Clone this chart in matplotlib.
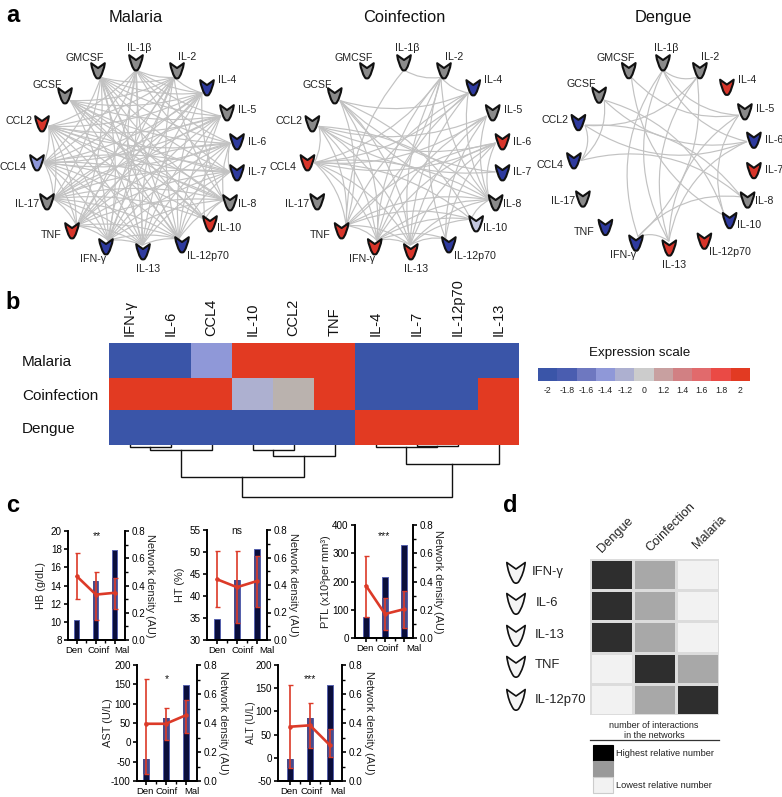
import numpy as np
import matplotlib
matplotlib.use("Agg")
import matplotlib.pyplot as plt
from matplotlib.colors import BoundaryNorm, ListedColormap
from matplotlib.patches import PathPatch, Rectangle
from matplotlib.path import Path
from matplotlib.transforms import ScaledTranslation

plt.rcParams["font.family"] = ["Liberation Sans", "DejaVu Sans"]
plt.rcParams["axes.unicode_minus"] = False

W, H = 782, 797

# =========================
# data: networks (panel a)
# =========================

NODES = ["GCSF", "GMCSF", "IL-1β", "IL-2", "IL-4", "IL-5", "IL-6", "IL-7", "IL-8",
         "IL-10", "IL-12p70", "IL-13", "IFN-γ", "TNF", "IL-17", "CCL4", "CCL2"]

# g grey, b blue, r red, l light blue, p pale
MALARIA_COLORS = "g g g g b g b b g r b b b r g l r".split()
COINF_COLORS = "g g g g b g r b g p b r r r g r g".split()
DENGUE_COLORS = "g g g g r g b r g b r r b b g b b".split()

MALARIA_EDGES = {
    "GCSF": ["IL-4", "IL-5", "IL-6", "IL-7", "IL-8", "IL-10", "IL-12p70", "IL-13", "IFN-γ", "IL-2"],
    "GMCSF": ["IL-2", "IL-4", "IL-5", "IL-6", "IL-7", "IL-8", "IL-10", "IL-12p70", "IL-13", "IFN-γ", "TNF", "IL-17", "CCL4"],
    "IL-1β": ["IL-2", "IL-4", "IL-5", "IL-6", "IL-7", "IL-12p70", "IL-13", "IFN-γ", "TNF", "IL-17", "CCL4", "CCL2"],
    "IL-2": ["IL-4", "IL-8", "IL-12p70", "IL-13", "IFN-γ", "TNF", "IL-17", "CCL4", "CCL2"],
    "IL-4": ["IL-12p70", "IL-13", "IFN-γ", "TNF", "IL-17", "CCL4", "CCL2", "IL-8"],
    "IL-5": ["IL-10", "IL-12p70", "IL-13", "IFN-γ", "TNF", "IL-17", "CCL4", "CCL2"],
    "IL-6": ["IL-7", "IL-8", "IL-12p70", "IL-13", "IFN-γ", "TNF", "IL-17", "CCL4", "CCL2"],
    "IL-7": ["IL-12p70", "IL-13", "IFN-γ", "TNF", "IL-17", "CCL4", "CCL2"],
    "IL-8": ["IL-10", "IL-12p70", "IFN-γ", "TNF", "IL-17", "CCL4", "CCL2"],
    "IL-10": ["IL-17", "CCL4", "CCL2"],
    "IL-12p70": ["IL-13", "IFN-γ", "TNF", "IL-17", "CCL4", "CCL2"],
    "IL-13": ["IFN-γ", "TNF", "IL-17", "CCL4", "CCL2"],
    "IFN-γ": ["TNF", "IL-17", "CCL4", "CCL2"],
    "TNF": ["IL-17", "CCL4", "CCL2"],
    "IL-17": ["CCL4", "CCL2"],
    "CCL4": ["CCL2"],
}

COINF_EDGES = {
    "GCSF": ["IL-7", "IL-8", "IL-10", "IL-4", "IL-13", "IFN-γ", "TNF"],
    "IL-1β": ["IL-2", "TNF"],
    "IL-2": ["IL-4", "IL-8", "IL-12p70", "IL-13", "IFN-γ", "TNF", "CCL4"],
    "IL-4": ["IL-8", "IL-13", "IFN-γ", "TNF", "CCL4"],
    "IL-5": ["IL-8", "IL-12p70", "IL-13", "IFN-γ", "CCL4", "CCL2"],
    "IL-6": ["IL-8", "IL-12p70", "IL-13", "IFN-γ", "TNF", "CCL4", "CCL2"],
    "IL-7": ["CCL2"],
    "IL-8": ["IL-10", "IL-13", "IFN-γ", "TNF", "CCL4", "CCL2"],
    "IL-10": ["IL-13", "IFN-γ", "TNF", "CCL4"],
    "IL-12p70": ["IL-13", "IFN-γ"],
    "IL-13": ["IFN-γ", "TNF", "CCL4", "CCL2"],
    "IFN-γ": ["TNF", "CCL4", "CCL2"],
    "TNF": ["CCL4", "CCL2"],
    "CCL4": ["CCL2"],
}
COINF_FLIP = [("IL-1β", "TNF")]

DENGUE_EDGES = {
    "GCSF": ["IL-6", "IL-10", "CCL4"],
    "GMCSF": ["IL-5", "IL-10"],
    "IL-1β": ["IL-2", "IL-5", "IL-6", "IL-13", "IFN-γ"],
    "IL-2": ["IL-13", "IFN-γ", "CCL2"],
    "IL-5": ["IL-10", "IL-13"],
    "IL-6": ["IL-13", "CCL2"],
    "IL-8": ["IFN-γ", "CCL2", "CCL4"],
    "IL-13": ["IFN-γ"],
    "CCL4": ["CCL2"],
}
DENGUE_FLIP = [("IL-1β", "IFN-γ"), ("IL-2", "IFN-γ")]

# =========================
# data: heatmap (panel b)
# =========================

GENES = ["IFN-γ", "IL-6", "CCL4", "IL-10", "CCL2", "TNF", "IL-4", "IL-7", "IL-12p70", "IL-13"]
GROUPS = ["Malaria", "Coinfection", "Dengue"]
MALARIA_EXPR = [-2, -2, -1.4, 2, 2, 2, -2, -2, -2, -2]
COINF_EXPR = [2, 2, 2, -1.2, 0.6, 2, -2, -2, -2, 2]
DENGUE_EXPR = [-2, -2, -2, -2, -2, -2, 2, 2, 2, 2]
SCALE_TICKS = [-2, -1.8, -1.6, -1.4, -1.2, 0, 1.2, 1.4, 1.6, 1.8, 2]

# dendrogram merges: child, child, height (leaves are 0-9, merges count on from 10)
MERGES = [(0, 1, 1.7), (10, 2, 5), (3, 4, 5), (12, 5, 11), (11, 13, 32),
          (7, 8, 1.3), (6, 15, 2), (16, 9, 19.3), (14, 17, 52)]

# =========================
# data: clinical plots (panel c)
# =========================

CATS = ["Den", "Coinf", "Mal"]
HB = [15, 13, 13.2]
HB_LOW = [12.5, 10.2, 11.4]
HB_HIGH = [17.6, 15.5, 14.8]
HT = [43.8, 42, 43.4]
HT_LOW = [37.6, 33.8, 37.6]
HT_HIGH = [50.2, 50.2, 49]
PTL = [185, 85, 102]
PTL_LOW = [75, 30, 35]
PTL_HIGH = [292, 143, 168]
AST = [48, 48, 70]
AST_LOW = [-83, 5, 25]
AST_HIGH = [165, 88, 110]
ALT = [67, 70, 27]
ALT_LOW = [-22, 22, 2]
ALT_HIGH = [157, 118, 63]
DENSITY = [0.15, 0.435, 0.66]

# =========================
# data: panel d
# =========================

D_ROWS = ["IFN-γ", "IL-6", "IL-13", "TNF", "IL-12p70"]
D_COLS = ["Dengue", "Coinfection", "Malaria"]
D_LEVELS = [[2, 1, 0], [2, 1, 0], [2, 1, 0], [0, 2, 1], [0, 1, 2]]

# =========================
# layout, pixel coordinates of the figure
# =========================

NODE_DX = [-71, -38, 0, 41, 71, 91, 101, 101, 94, 74, 46, 7, -30, -64, -89, -99, -94]
NODE_Y = [96, 71, 63, 71, 88, 113, 142, 173, 203, 224, 245, 252, 247, 231, 202, 163, 124]
LABEL_DX = [-18, -13, 3, 10, 20, 20, 20, 20, 17, 19, 26, 5, -13, -21, -20, -24, -23]
LABEL_DY = [-11, -13, -15, -14, -8, -3, 0, -1, 1, 4, 11, 17, 12, 4, 2, 4, -3]
NODE_FILL = {"g": "#8a8a8a", "b": "#2e3a9e", "r": "#d8352a", "l": "#8e97da", "p": "#c3c6de"}

fig = plt.figure(figsize=(W / 100, H / 100), dpi=100)
page = fig.add_axes([0, 0, 1, 1])
page.set_xlim(0, W)
page.set_ylim(H, 0)
page.axis("off")


def px_axes(left, top, right, bottom):
    return fig.add_axes([left / W, 1 - bottom / H, (right - left) / W, (bottom - top) / H])


def glyph(x, y, hw, hh, face, lw):
    # receptor shape: two tips on top, notch between them, rounded foot
    shape = [(-1, -1), (-0.5, -0.68), (0, -0.38), (0.5, -0.68), (1, -1),
             (0.85, 0.1), (0.28, 0.85), (0, 1.1), (-0.28, 0.85), (-0.85, 0.1), (-1, -1), (-1, -1)]
    codes = [Path.MOVETO, Path.CURVE3, Path.CURVE3, Path.CURVE3, Path.CURVE3,
             Path.CURVE3, Path.CURVE3, Path.CURVE3, Path.CURVE3, Path.CURVE3, Path.CURVE3, Path.CLOSEPOLY]
    verts = [(x + a * hw, y + b * hh) for a, b in shape]
    page.add_patch(PathPatch(Path(verts, codes), facecolor=face, edgecolor="#111111", lw=lw,
                             joinstyle="round", zorder=4))


def network(title, edges, colors, cx, sx, sy, bend, flips=()):
    ctr_y = 63 + (157 - 63) * sy
    pos = {}
    for n, dx, y in zip(NODES, NODE_DX, NODE_Y):
        pos[n] = (cx + dx * sx, 63 + (y - 63) * sy)

    def anchor(n):
        x, y = pos[n]
        d = np.hypot(cx - x, ctr_y - y)
        return np.array([x + (cx - x) / d * 7, y + (ctr_y - y) / d * 7])

    for a, partners in edges.items():
        for b in partners:
            p, q = anchor(a), anchor(b)
            mid = (p + q) / 2
            chord = q - p
            perp = np.array([-chord[1], chord[0]])
            if np.dot(perp, np.array([cx, ctr_y]) - mid) < 0:
                perp = -perp
            if (a, b) in flips:
                perp = -perp
            ctrl = mid + perp * bend
            page.add_patch(PathPatch(Path([p, ctrl, q], [Path.MOVETO, Path.CURVE3, Path.CURVE3]),
                                     facecolor="none", edgecolor="#c2c2c2", lw=0.85, zorder=2))

    for i, n in enumerate(NODES):
        x, y = pos[n]
        glyph(x, y, 6.8, 7.8, NODE_FILL[colors[i]], 1.5)
        page.text(x + LABEL_DX[i], y + LABEL_DY[i], n, ha="center", va="center", fontsize=7.7, color="#222222")
    page.text(cx, 17, title, ha="center", va="center", fontsize=11.8, color="#111111")


network("Malaria", MALARIA_EDGES, MALARIA_COLORS, 136, 1.0, 1.0, 0.13)
network("Coinfection", COINF_EDGES, COINF_COLORS, 404, 0.975, 1.0, 0.18, COINF_FLIP)
network("Dengue", DENGUE_EDGES, DENGUE_COLORS, 663, 0.9, 0.98, 0.26, DENGUE_FLIP)

for letter, x, y in [("a", 13, 15), ("b", 13, 302), ("c", 13, 506), ("d", 510, 506)]:
    page.text(x, y, letter, ha="center", va="center", fontsize=17, fontweight="bold")

# =========================
# panel b heatmap
# =========================

levels = [-2, -1.8, -1.6, -1.4, -1.2, 0, 0.6, 1.2, 1.4, 1.6, 1.8, 2]
level_colors = ["#3a55a8", "#4a5db0", "#6e78c0", "#8f98d8", "#adb0d0", "#cccccc", "#bab2ae",
                "#c8a0a0", "#d18083", "#e16a6c", "#ea4a45", "#e23a22"]
bounds = [-2.1] + [(a + b) / 2 for a, b in zip(levels[:-1], levels[1:])] + [2.1]
heat_cmap = ListedColormap(level_colors)
heat_norm = BoundaryNorm(bounds, heat_cmap.N)

heat_ax = px_axes(109, 343.3, 519, 445)
row_edges = [0, 35, 67, 101.7]
heat_ax.pcolormesh(np.arange(len(GENES) + 1), row_edges, np.array([MALARIA_EXPR, COINF_EXPR, DENGUE_EXPR]),
                   cmap=heat_cmap, norm=heat_norm)
heat_ax.invert_yaxis()
heat_ax.axis("off")

for i, g in enumerate(GENES):
    heat_ax.text(i + 0.5, -7, g, rotation=90, ha="center", va="bottom", fontsize=10.5, color="#111111")
for name, y in zip(GROUPS, [362, 396, 429]):
    page.text(22, y, name, ha="left", va="center", fontsize=11, color="#111111")

dendro_ax = px_axes(109, 445, 519, 500)
dendro_ax.set_xlim(0, len(GENES))
dendro_ax.set_ylim(55, 0)
dendro_ax.axis("off")
tree = [(i + 0.5, 0) for i in range(len(GENES))]
for a, b, h in MERGES:
    xa, ya = tree[a]
    xb, yb = tree[b]
    dendro_ax.plot([xa, xa, xb, xb], [ya, h, h, yb], color="#111111", lw=1.0, solid_joinstyle="miter")
    tree.append(((xa + xb) / 2, h))

bar_ax = px_axes(538, 367.7, 750, 380.7)
bar_ax.pcolormesh(np.arange(len(SCALE_TICKS) + 1), [0, 1], np.array([SCALE_TICKS]), cmap=heat_cmap, norm=heat_norm)
bar_ax.set_yticks([])
bar_ax.set_xticks(np.arange(len(SCALE_TICKS)) + 0.5)
bar_ax.set_xticklabels([f"{t:g}" for t in SCALE_TICKS], fontsize=6.3, color="#222222")
bar_ax.tick_params(axis="x", length=0, pad=4)
for s in bar_ax.spines.values():
    s.set_visible(False)
page.text(640, 353, "Expression scale", ha="center", va="center", fontsize=9.6, color="#111111")

# =========================
# panel c
# =========================


def clinical(box, xlim, mean, low, high, ylim, yticks, ylabel, ylabel_x, right_x, star, star_y,
             label_shift, label_size=7.9):
    left, top, right, bottom = box
    ax = px_axes(left, top, right, bottom)
    ax2 = ax.twinx()
    ax.set_zorder(ax2.get_zorder() + 1)
    ax.patch.set_visible(False)
    x = np.arange(len(CATS))

    bars = ax2.bar(x, DENSITY, width=0.27, color="#0a0e3c", edgecolor="#5560ad", lw=0.7)
    for i, rect in enumerate(bars):
        band = ax.bar(x[i], high[i] - low[i], bottom=low[i], width=0.27, color="#4a4a88", lw=0)[0]
        band.set_clip_path(rect)
    yerr = [np.array(mean) - np.array(low), np.array(high) - np.array(mean)]
    ax.errorbar(x, mean, yerr=yerr, color="#dc3a28", lw=1.9, elinewidth=1.2, capsize=1.8, capthick=1.0,
                marker="o", ms=2.2, zorder=5)

    ax.set_xlim(*xlim)
    ax.set_ylim(*ylim)
    ax.set_yticks(yticks)
    ax2.set_ylim(0, 0.8)
    ax2.set_yticks([0, 0.2, 0.4, 0.6, 0.8])
    ax2.set_yticklabels(["0.0", "0.2", "0.4", "0.6", "0.8"])
    ax2.set_yticks([0.1, 0.3, 0.5, 0.7], minor=True)
    ax.set_xticks(x)
    ax.set_xticklabels(CATS)
    ax.set_xticks([0.5, 1.5], minor=True)

    for a in (ax, ax2):
        a.spines["top"].set_visible(False)
        for s in a.spines.values():
            s.set_linewidth(1.4)
        a.tick_params(axis="both", which="major", length=3, width=1.2, labelsize=7.1, pad=1.5, color="#000000")
        a.tick_params(axis="both", which="minor", length=2, width=1.0)
    ax.spines["right"].set_visible(False)
    ax2.spines["left"].set_visible(False)

    # category labels sit a little wider than the bars in the original
    for lab, shift in zip(ax.get_xticklabels(), label_shift):
        lab.set_transform(lab.get_transform() + ScaledTranslation(shift / 100, 0, fig.dpi_scale_trans))
        lab.set_fontsize(6.8)

    mid_y = (top + bottom) / 2
    page.text(ylabel_x, mid_y, ylabel, rotation=90, ha="center", va="center", fontsize=label_size, color="#222222")
    page.text(right_x, mid_y, "Network density (AU)", rotation=270, ha="center", va="center",
              fontsize=7.8, color="#222222")
    page.text((left + right) / 2, star_y, star, ha="center", va="center", fontsize=7.5, color="#111111")


clinical((68, 531, 125, 640), (-0.47, 2.53), HB, HB_LOW, HB_HIGH, (8, 20), [8, 10, 12, 14, 16, 18, 20],
         "HB (g/dL)", 41, 150, "**", 536, (-3, 3, 7))
clinical((207, 530, 267, 640), (-0.5, 2.5), HT, HT_LOW, HT_HIGH, (30, 55), [30, 35, 40, 45, 50, 55],
         "HT (%)", 180, 293, "ns", 531, (0, 6, 10))
clinical((355, 525, 413, 638), (-0.58, 2.47), PTL, PTL_LOW, PTL_HIGH, (0, 400), [0, 100, 200, 300, 400],
         "PTL (x10³per mm³)", 326, 438, "***", 536, (-1, 3, 10))
clinical((137, 665, 197, 781), (-0.44, 2.56), AST, AST_LOW, AST_HIGH, (-100, 200), [-100, -50, 0, 50, 100, 150, 200],
         "AST (U/L)", 108, 223, "*", 679, (-1, 1, 6))
clinical((278, 665, 342, 781), (-0.6, 2.6), ALT, ALT_LOW, ALT_HIGH, (-50, 200), [-50, 0, 50, 100, 150, 200],
         "ALT (U/L)", 251, 369, "***", 679, (-1, 2, 8), label_size=7.2)

# =========================
# panel d
# =========================

d_ax = px_axes(590, 559, 719, 715)
d_cmap = ListedColormap(["#f2f2f2", "#a8a8a8", "#2e2e2e"])
d_ax.pcolormesh(np.array(D_LEVELS), cmap=d_cmap, vmin=0, vmax=2, edgecolors="#dcdcdc", linewidth=1.0)
d_ax.invert_yaxis()
d_ax.axis("off")

for name, x, y in zip(D_COLS, [602, 650, 697], [553, 552, 549]):
    page.text(x, y, name, rotation=45, rotation_mode="anchor", ha="left", va="baseline", fontsize=9.2, color="#222222")
for name, tx, y, gy in zip(D_ROWS, [532, 536, 535, 535, 535], [572, 603, 635, 665, 700], [573, 604, 636, 667, 700]):
    page.text(tx, y, name, ha="left", va="center", fontsize=9.4, color="#222222")
    glyph(516, gy, 9.2, 10.5, "#f4f4f4", 1.2)

page.text(654, 725, "number of interactions", ha="center", va="center", fontsize=6.5, color="#222222")
page.text(654, 735, "in the networks", ha="center", va="center", fontsize=6.5, color="#222222")
page.plot([590, 719], [740, 740], color="#333333", lw=0.9)

legend_fill = ["#000000", "#999999", "#f2f2f2"]
for i, c in enumerate(legend_fill):
    page.add_patch(Rectangle((593, 745 + i * 16), 20, 16, facecolor=c, edgecolor="#cccccc" if i == 2 else c, lw=0.8))
page.text(616, 753, "Highest relative number", ha="left", va="center", fontsize=6.7, color="#222222")
page.text(616, 785, "Lowest relative number", ha="left", va="center", fontsize=6.7, color="#222222")

fig.savefig("out.png", dpi=100)
